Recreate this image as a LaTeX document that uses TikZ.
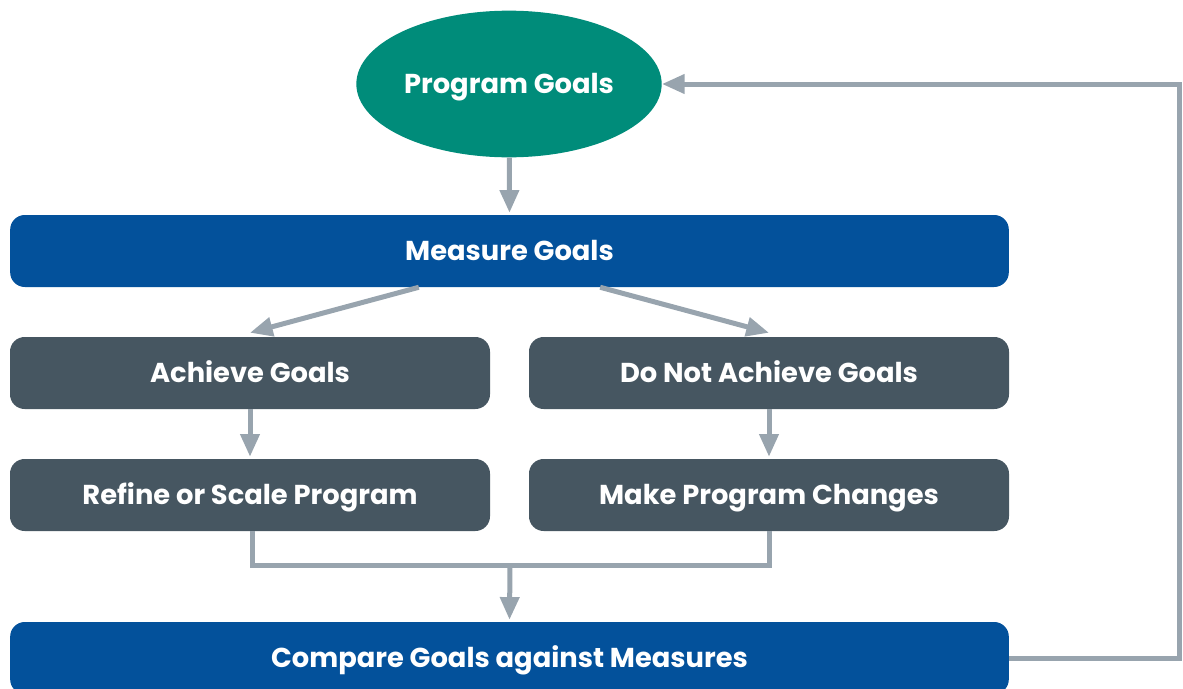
\documentclass[tikz,border=0pt]{standalone}
\usepackage{fontspec}
\setmainfont{Poppins}
\usepackage{xcolor}
\usetikzlibrary{shapes.geometric,arrows.meta,positioning}

\definecolor{goalteal}{RGB}{0,140,122}
\definecolor{measureblue}{RGB}{3,81,155}
\definecolor{stepslate}{RGB}{70,86,97}
\definecolor{linkgray}{RGB}{152,164,174}

\tikzset{
  boxtext/.style={text=white,font=\fontsize{20.5}{24}\selectfont\bfseries,text height=14.4pt,text depth=0pt},
  widebox/.style={boxtext,fill=measureblue,rounded corners=11pt,minimum width=749pt,minimum height=54pt,inner sep=0pt},
  halfbox/.style={boxtext,fill=stepslate,rounded corners=11pt,minimum width=360pt,minimum height=54pt,inner sep=0pt},
  goalshape/.style={boxtext,ellipse,fill=goalteal,minimum width=229pt,minimum height=110pt,inner sep=0pt},
  linkline/.style={draw=linkgray,line width=3.75pt},
  link/.style={linkline,-{Triangle[length=17pt,width=14pt]}}
}

\begin{document}
\begin{tikzpicture}[x=0.75pt,y=0.75pt,yscale=-1,xscale=1]
\useasboundingbox (0,0) rectangle (1183,689);

\node (goals) [goalshape] at (509,84) {Program Goals};
\node (measure) [widebox] at (509.5,251) {Measure Goals};
\node (achieve) [halfbox] at (250,373) {Achieve Goals};
\node (notachieve) [halfbox] at (769,373) {Do Not Achieve Goals};
\node (refine) [halfbox] at (250,495) {Refine or Scale Program};
\node (changes) [halfbox] at (769,495) {Make Program Changes};
\node (compare) [widebox] at (509.5,658) {Compare Goals against Measures};

\coordinate (join) at (510,565);
\coordinate (loop) at (1179,84);

\draw [link] (goals) -- ([yshift=-1.5pt]measure.north);
\draw [link] ([xshift=-68pt]measure.south) -- ([yshift=-3pt]achieve.north);
\draw [link] ([xshift=68pt]measure.south) -- ([yshift=-3pt]notachieve.north);
\draw [link] (achieve) -- ([yshift=-1.5pt]refine.north);
\draw [link] (notachieve) -- ([yshift=-1.5pt]changes.north);

\draw [linkline] ([xshift=2pt]refine.south) |- (join) -| (changes.south);
\draw [link] (join) -- ([yshift=-1.5pt]compare.north);
\draw [link] (compare.east) -| (loop) -- (goals);

\end{tikzpicture}
\end{document}
